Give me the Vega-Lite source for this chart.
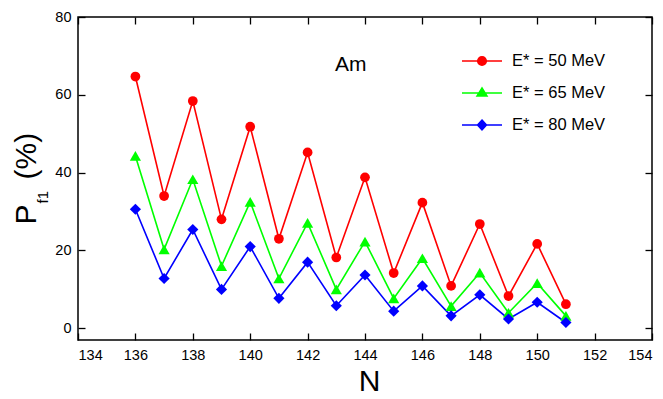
{
  "$schema": "https://vega.github.io/schema/vega-lite/v6.json",
  "width": 574,
  "height": 323,
  "autosize": "none",
  "padding": {"left": 78, "top": 17, "right": 11, "bottom": 59},
  "background": "white",
  "config": {
    "view": {"stroke": "black", "strokeWidth": 1.5},
    "font": "Liberation Sans",
    "axis": {"grid": false, "domain": false, "tickColor": "black", "tickWidth": 1.3, "labelColor": "black", "titleColor": "black", "titleFontWeight": "normal", "labelFont": "Liberation Sans", "titleFont": "Liberation Sans"},
    "legend": {"labelFont": "Liberation Sans"}
  },
  "data": {
    "values": [
      {"N": 136, "P": 64.7, "E": "E* = 50 MeV"},
      {"N": 137, "P": 34.0, "E": "E* = 50 MeV"},
      {"N": 138, "P": 58.4, "E": "E* = 50 MeV"},
      {"N": 139, "P": 28.0, "E": "E* = 50 MeV"},
      {"N": 140, "P": 51.8, "E": "E* = 50 MeV"},
      {"N": 141, "P": 23.0, "E": "E* = 50 MeV"},
      {"N": 142, "P": 45.2, "E": "E* = 50 MeV"},
      {"N": 143, "P": 18.2, "E": "E* = 50 MeV"},
      {"N": 144, "P": 38.8, "E": "E* = 50 MeV"},
      {"N": 145, "P": 14.2, "E": "E* = 50 MeV"},
      {"N": 146, "P": 32.3, "E": "E* = 50 MeV"},
      {"N": 147, "P": 10.9, "E": "E* = 50 MeV"},
      {"N": 148, "P": 26.8, "E": "E* = 50 MeV"},
      {"N": 149, "P": 8.3, "E": "E* = 50 MeV"},
      {"N": 150, "P": 21.7, "E": "E* = 50 MeV"},
      {"N": 151, "P": 6.2, "E": "E* = 50 MeV"},
      {"N": 136, "P": 44.3, "E": "E* = 65 MeV"},
      {"N": 137, "P": 20.3, "E": "E* = 65 MeV"},
      {"N": 138, "P": 38.3, "E": "E* = 65 MeV"},
      {"N": 139, "P": 16.0, "E": "E* = 65 MeV"},
      {"N": 140, "P": 32.5, "E": "E* = 65 MeV"},
      {"N": 141, "P": 12.8, "E": "E* = 65 MeV"},
      {"N": 142, "P": 27.1, "E": "E* = 65 MeV"},
      {"N": 143, "P": 10.0, "E": "E* = 65 MeV"},
      {"N": 144, "P": 22.3, "E": "E* = 65 MeV"},
      {"N": 145, "P": 7.7, "E": "E* = 65 MeV"},
      {"N": 146, "P": 18.0, "E": "E* = 65 MeV"},
      {"N": 147, "P": 5.7, "E": "E* = 65 MeV"},
      {"N": 148, "P": 14.3, "E": "E* = 65 MeV"},
      {"N": 149, "P": 4.0, "E": "E* = 65 MeV"},
      {"N": 150, "P": 11.6, "E": "E* = 65 MeV"},
      {"N": 151, "P": 3.2, "E": "E* = 65 MeV"},
      {"N": 136, "P": 30.6, "E": "E* = 80 MeV"},
      {"N": 137, "P": 12.8, "E": "E* = 80 MeV"},
      {"N": 138, "P": 25.4, "E": "E* = 80 MeV"},
      {"N": 139, "P": 10.0, "E": "E* = 80 MeV"},
      {"N": 140, "P": 21.0, "E": "E* = 80 MeV"},
      {"N": 141, "P": 7.7, "E": "E* = 80 MeV"},
      {"N": 142, "P": 17.0, "E": "E* = 80 MeV"},
      {"N": 143, "P": 5.8, "E": "E* = 80 MeV"},
      {"N": 144, "P": 13.7, "E": "E* = 80 MeV"},
      {"N": 145, "P": 4.4, "E": "E* = 80 MeV"},
      {"N": 146, "P": 10.9, "E": "E* = 80 MeV"},
      {"N": 147, "P": 3.2, "E": "E* = 80 MeV"},
      {"N": 148, "P": 8.6, "E": "E* = 80 MeV"},
      {"N": 149, "P": 2.4, "E": "E* = 80 MeV"},
      {"N": 150, "P": 6.7, "E": "E* = 80 MeV"},
      {"N": 151, "P": 1.5, "E": "E* = 80 MeV"}
    ]
  },
  "layer": [
    {
      "mark": {"type": "line", "strokeWidth": 1.6},
      "encoding": {
        "x": {"field": "N", "type": "quantitative", "scale": {"domain": [134, 154], "nice": false, "zero": false},
          "axis": {"orient": "bottom", "values": [134, 136, 138, 140, 142, 144, 146, 148, 150, 152, 154], "tickSize": -7, "labelPadding": 15, "labelFontSize": 14.5, "title": "N", "titleFontSize": 30, "titleX": 291, "titleY": 50, "titleBaseline": "alphabetic", "titleAlign": "center"}},
        "y": {"field": "P", "type": "quantitative", "scale": {"domain": [-3, 80], "nice": false, "zero": false},
          "axis": {"orient": "left", "values": [0, 20, 40, 60, 80], "tickSize": -7, "labelPadding": 14, "labelFontSize": 14.5, "title": "P\u00a0\u00a0\u00a0(%)", "titleFontSize": 30, "titleAngle": 270, "titleAlign": "left", "titleBaseline": "alphabetic", "titleX": -43, "titleY": 207}},
        "color": {"field": "E", "type": "nominal", "scale": {"domain": ["E* = 50 MeV", "E* = 65 MeV", "E* = 80 MeV"], "range": ["#ff0000", "#00ff00", "#0000ff"]},
          "legend": {
            "orient": "none", "legendX": 393, "legendY": 33, "title": null, "padding": 0,
            "symbolSize": 400, "symbolStrokeWidth": 1.5, "symbolOpacity": 1, "labelFontSize": 16.5, "labelColor": "black", "labelOffset": 19, "rowPadding": 12
          }}
      }
    },
    {
      "transform": [{"filter": "datum.E === 'E* = 50 MeV'"}],
      "mark": {"type": "point", "shape": "circle", "filled": true, "opacity": 1, "size": 95},
      "encoding": {
        "x": {"field": "N", "type": "quantitative",
          "axis": {"orient": "top", "values": [134, 136, 138, 140, 142, 144, 146, 148, 150, 152, 154], "tickSize": -7, "labels": false, "title": null}},
        "y": {"field": "P", "type": "quantitative",
          "axis": {"orient": "right", "values": [0, 20, 40, 60, 80], "tickSize": -7, "labels": false, "title": null}},
        "color": {"field": "E", "type": "nominal"}
      }
    },
    {
      "transform": [{"filter": "datum.E === 'E* = 65 MeV'"}],
      "mark": {"type": "point", "shape": "triangle-up", "filled": true, "opacity": 1, "size": 125},
      "encoding": {
        "x": {"field": "N", "type": "quantitative", "axis": null},
        "y": {"field": "P", "type": "quantitative", "axis": null},
        "color": {"field": "E", "type": "nominal"}
      }
    },
    {
      "transform": [{"filter": "datum.E === 'E* = 80 MeV'"}],
      "mark": {"type": "point", "shape": "diamond", "filled": true, "opacity": 1, "size": 125},
      "encoding": {
        "x": {"field": "N", "type": "quantitative", "axis": null},
        "y": {"field": "P", "type": "quantitative", "axis": null},
        "color": {"field": "E", "type": "nominal"}
      }
    },
    {
      "transform": [{"filter": "datum.N < 0"}],
      "mark": {"type": "point", "filled": true, "opacity": 1},
      "encoding": {
        "x": {"field": "N", "type": "quantitative", "axis": null},
        "y": {"field": "P", "type": "quantitative", "axis": null},
        "color": {"field": "E", "type": "nominal"},
        "shape": {"field": "E", "type": "nominal", "scale": {"domain": ["E* = 50 MeV", "E* = 65 MeV", "E* = 80 MeV"], "range": ["M-2,0H2M0.43,0A0.43,0.43,0,1,1,-0.43,0A0.43,0.43,0,1,1,0.43,0Z", "M-2,0H2M0,-0.5L0.5,0.3L-0.5,0.3Z", "M-2,0H2M0,-0.5L0.45,0L0,0.5L-0.45,0Z"]}}
      }
    },
    {
      "data": {"values": [{"label": "Am"}]},
      "mark": {"type": "text", "fontSize": 21, "align": "center", "baseline": "middle", "fill": "black"},
      "encoding": {
        "text": {"field": "label"},
        "x": {"datum": 143.5, "type": "quantitative", "axis": null},
        "y": {"datum": 67.6, "type": "quantitative",
          "axis": {"orient": "left", "ticks": false, "labels": false, "title": "f1", "titleFontSize": 15, "titleAngle": 270, "titleAlign": "left", "titleBaseline": "alphabetic", "titleX": -31, "titleY": 186}}
      }
    }
  ],
  "resolve": {"axis": {"x": "independent", "y": "independent"}}
}
